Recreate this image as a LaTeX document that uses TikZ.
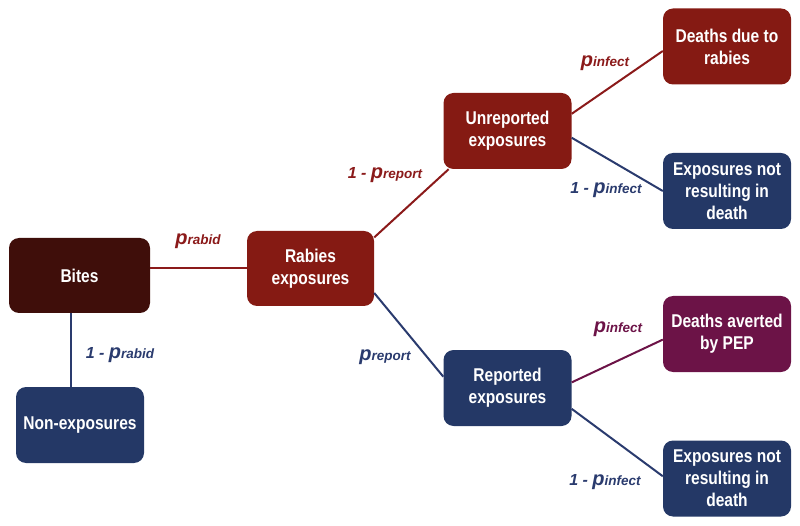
\documentclass[tikz,border=0pt]{standalone}
\usepackage{fontspec}
\setmainfont[FakeStretch=0.84]{Liberation Sans}
\newfontfamily\labfont{Liberation Sans}
\definecolor{cbites}{HTML}{3F0E0A}
\definecolor{cred}{HTML}{851A13}
\definecolor{cblue}{HTML}{243866}
\definecolor{cpurp}{HTML}{6C1347}
\definecolor{lred}{HTML}{8B1A1A}
\definecolor{lblue}{HTML}{2A3B6E}
\definecolor{lpurp}{HTML}{6C1347}
\tikzset{
  box/.style={rounded corners=10pt, minimum width=128pt, minimum height=76pt,
    align=center, text=white, inner sep=2pt,
    font=\fontsize{18.5}{22}\selectfont\bfseries},
  conn/.style={line width=2pt},
  lab/.style={inner sep=0pt, anchor=center}
}
\newcommand{\pbig}[1]{{\fontsize{20}{20}\selectfont p}{\fontsize{13.5}{13.5}\selectfont #1}}
\newcommand{\onem}{{\fontsize{16}{16}\selectfont 1 - }}
\begin{document}
\begin{tikzpicture}[x=1pt,y=-1pt]
\useasboundingbox (0,0) rectangle (800,526);
\node[box, fill=cbites, minimum width=141pt, minimum height=75pt] (bites) at (79.5,275.5) {Bites};
\node[box, fill=cblue] (non) at (80,425) {Non-exposures};
\node[box, fill=cred, minimum width=127pt, minimum height=75pt] (rab) at (310.5,268.5) {Rabies\\exposures};
\node[box, fill=cred] (unr) at (507.5,131) {Unreported\\exposures};
\node[box, fill=cblue] (rep) at (507.5,388) {Reported\\exposures};
\node[box, fill=cred] (dea) at (727,46.5) {Deaths due to\\rabies};
\node[box, fill=cblue] (ex1) at (727,191) {Exposures not\\resulting in\\death};
\node[box, fill=cpurp] (avt) at (727,334) {Deaths averted\\by PEP};
\node[box, fill=cblue] (ex2) at (727,478.5) {Exposures not\\resulting in\\death};

\draw[conn, lred] (bites.east |- rab.west) -- (rab.west);
\draw[conn, lblue] (bites.south -| 71,0) -- (non.north -| 71,0);
\draw[conn, lred] (rab.26) -- (unr.213);
\draw[conn, lblue] (rab.339) -- (rep.170);
\draw[conn, lred] (unr.15) -- (dea.184);
\draw[conn, lblue] (unr.354) -- (ex1.180);
\draw[conn, lpurp] (rep.5) -- (avt.185);
\draw[conn, lblue] (rep.342) -- (ex2.178);

\begin{scope}[every node/.style={lab, font=\labfont\bfseries\itshape}]
\node[text=lred] (l1) at (198,241) {\pbig{rabid}};
\node[text=lblue] (l2) at (120,355) {\onem\pbig{rabid}};
\node[text=lred] (l3) at (385,175) {\onem\pbig{report}};
\node[text=lblue] (l4) at (385,357) {\pbig{report}};
\node[text=lred] (l5) at (605,63) {\pbig{infect}};
\node[text=lblue] (l6) at (606,190) {\onem\pbig{infect}};
\node[text=lpurp] (l7) at (618,329) {\pbig{infect}};
\node[text=lblue] (l8) at (605,482) {\onem\pbig{infect}};
\end{scope}
\end{tikzpicture}
\end{document}
